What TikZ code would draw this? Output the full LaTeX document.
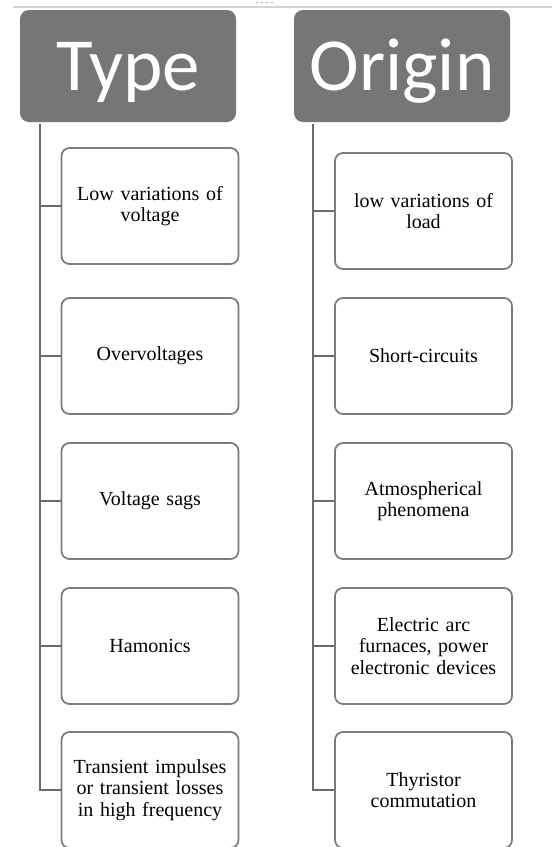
\documentclass[tikz,border=0pt]{standalone}
\usepackage{fontspec}
\setmainfont{Liberation Serif}
\newfontfamily\headfont{Carlito}
\begin{document}
\begin{tikzpicture}[x=1pt,y=-1pt,
  head/.style={fill=headgray, draw=none, rounded corners=9pt, minimum width=216pt, minimum height=112pt, inner sep=0pt, text height=58pt, text depth=10pt, text=white, font=\headfont\fontsize{75}{78}\selectfont},
  itembox/.style={draw=boxgray, line width=1.7pt, rounded corners=8pt, fill=white, minimum width=177pt, minimum height=116pt, inner sep=2pt, align=center, text width=172pt, font=\fontsize{20}{21.5}\selectfont},
  conn/.style={draw=linegray, line width=2pt}
]
\definecolor{headgray}{HTML}{767676}
\definecolor{boxgray}{HTML}{7A7A7A}
\definecolor{linegray}{HTML}{6A6A6A}
\definecolor{topgray}{HTML}{D4D4D4}
\useasboundingbox (0,0) rectangle (552,847);
\fill[white] (0,0) rectangle (552,847);
% top rule and dots
\coordinate (rl) at (13,7);
\coordinate (rr) at (552,7);
\draw[topgray, line width=2pt] (rl) -- (rr);
\foreach \dx in {257,262,267,272} \fill[gray!70] (\dx,2.5) circle (0.8);
% headers
\node[head] (T) at (128,66) {Type};
\node[head] (O) at (402,66) {Origin};
% type boxes
\node[itembox] (t1) at (150,206) {Low variations of\\voltage};
\node[itembox] (t2) at (150,356) {Overvoltages};
\node[itembox] (t3) at (150,501) {Voltage sags};
\node[itembox] (t4) at (150,646) {Hamonics};
\node[itembox] (t5) at (150,790) {Transient impulses\\or transient losses\\in high frequency};
% origin boxes
\node[itembox] (o1) at (423.5,211) {low variations of\\load};
\node[itembox] (o2) at (423.5,356) {Short-circuits};
\node[itembox] (o3) at (423.5,501) {Atmospherical\\phenomena};
\node[itembox] (o4) at (423.5,646) {Electric arc\\furnaces, power\\electronic devices};
\node[itembox] (o5) at (423.5,790) {Thyristor\\commutation};
% connectors
\coordinate (ts) at ([xshift=20pt,yshift=-2pt]T.south west);
\coordinate (os) at ([xshift=19pt,yshift=-2pt]O.south west);
\foreach \k in {1,...,5} {
  \draw[conn] (ts) |- (t\k.west);
  \draw[conn] (os) |- (o\k.west);
}
\end{tikzpicture}
\end{document}
